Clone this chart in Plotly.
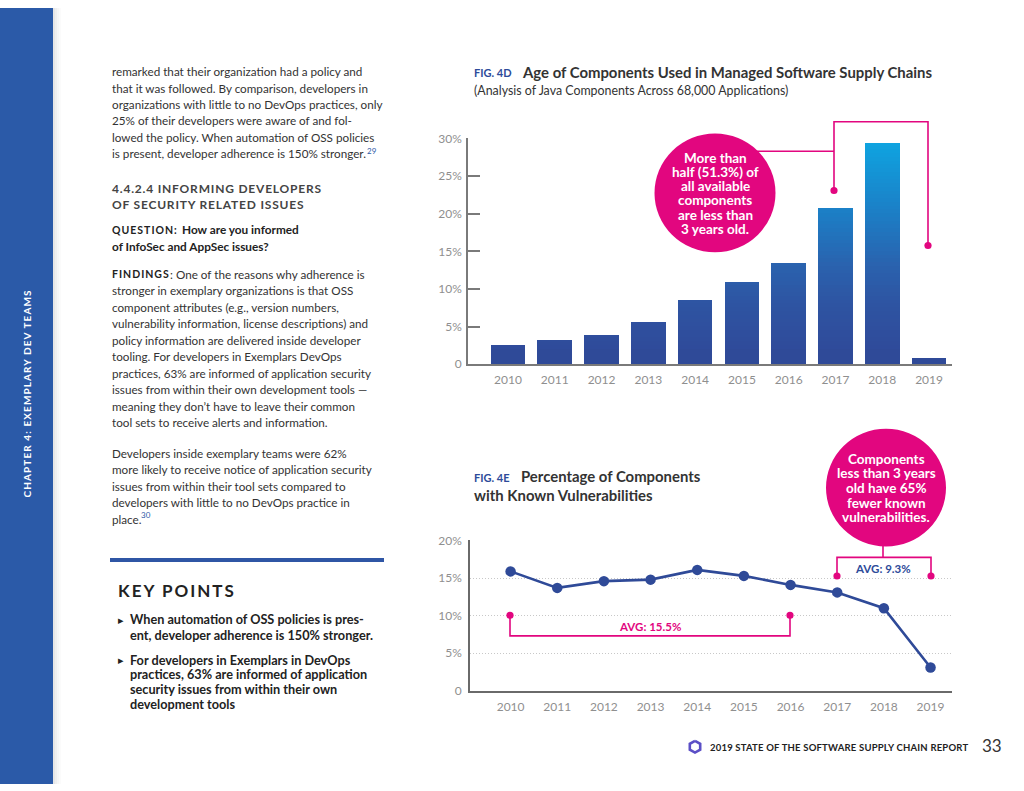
import plotly.graph_objects as go

# ---------------- data ----------------
years = ["2010", "2011", "2012", "2013", "2014", "2015", "2016", "2017", "2018", "2019"]
age_pct = [2.5, 3.1, 3.8, 5.5, 8.4, 10.9, 13.4, 20.6, 29.3, 0.7]          # Fig 4D
vuln_pct = [15.9, 13.7, 14.6, 14.8, 16.1, 15.3, 14.1, 13.1, 11.0, 3.1]    # Fig 4E
age_ticks = [0, 5, 10, 15, 20, 25, 30]
age_ticktext = ["0", "5%", "10%", "15%", "20%", "25%", "30%"]
vuln_ticks = [0, 5, 10, 15, 20]
vuln_ticktext = ["0", "5%", "10%", "15%", "20%"]
avg_old_label = "AVG: 15.5%"
avg_new_label = "AVG: 9.3%"
callout_4d = ["More than", "half (51.3%) of", "all available", "components", "are less than", "3 years old."]
callout_4e = ["Components", "less than 3 years", "old have 65%", "fewer known", "vulnerabilities."]

para1 = ["remarked that their organization had a policy and",
         "that it was followed. By comparison, developers in",
         "organizations with little to no DevOps practices, only",
         "25% of their developers were aware of and fol-",
         "lowed the policy. When automation of OSS policies",
         "is present, developer adherence is 150% stronger."]
footnote1 = "29"
heading = ["4.4.2.4 INFORMING DEVELOPERS", "OF SECURITY RELATED ISSUES"]
question_label = "QUESTION:"
question = ["How are you informed", "of InfoSec and AppSec issues?"]
findings_label = "FINDINGS"
findings = [": One of the reasons why adherence is",
            "stronger in exemplary organizations is that OSS",
            "component attributes (e.g., version numbers,",
            "vulnerability information, license descriptions) and",
            "policy information are delivered inside developer",
            "tooling. For developers in Exemplars DevOps",
            "practices, 63% are informed of application security",
            "issues from within their own development tools —",
            "meaning they don’t have to leave their common",
            "tool sets to receive alerts and information."]
para3 = ["Developers inside exemplary teams were 62%",
         "more likely to receive notice of application security",
         "issues from within their tool sets compared to",
         "developers with little to no DevOps practice in",
         "place."]
footnote2 = "30"
key_title = "KEY POINTS"
bullet1 = ["When automation of OSS policies is pres-", "ent, developer adherence is 150% stronger."]
bullet2 = ["For developers in Exemplars in DevOps", "practices, 63% are informed of application",
           "security issues from within their own", "development tools"]
sidebar_text = "CHAPTER 4: EXEMPLARY DEV TEAMS"
footer_text = "2019 STATE OF THE SOFTWARE SUPPLY CHAIN REPORT"
page_no = "33"

# ---------------- helpers ----------------
W, H = 1024, 791
FONT = "Lato"
PINK = "#e2067f"
NAVY = "#2f4a98"
TXT = "#333333"
LINK = "#2d5aa8"


def X(px):
    return px / W


def Y(py):
    return 1 - py / H


annotations = []
shapes = []


def spaced(s, ls):
    return f"<span style='letter-spacing:{ls}px'>{s}</span>"


def text(x, y, s, size=11.7, color=TXT, bold=False, anchor="left", family=FONT, angle=0):
    if bold:
        s = "<b>" + s + "</b>"
    annotations.append(dict(x=X(x), y=Y(y), xref="paper", yref="paper", text=s, showarrow=False,
                            xanchor=anchor, yanchor="middle", textangle=angle,
                            font=dict(family=family, size=size, color=color)))


def path(points, color=PINK, width=1.6):
    d = "M " + " L ".join(f"{X(px)},{Y(py)}" for px, py in points)
    shapes.append(dict(type="path", xref="paper", yref="paper", path=d,
                       line=dict(color=color, width=width)))


def circle(cx, cy, r, color=PINK):
    shapes.append(dict(type="circle", xref="paper", yref="paper", x0=X(cx - r), x1=X(cx + r),
                       y0=Y(cy + r), y1=Y(cy - r), fillcolor=color, line=dict(width=0)))


def lerp_color(v, stops):
    for (v0, c0), (v1, c1) in zip(stops[:-1], stops[1:]):
        if v <= v1:
            t = (v - v0) / (v1 - v0)
            c = [round(a + (b - a) * t) for a, b in zip(c0, c1)]
            return f"rgb({c[0]},{c[1]},{c[2]})"
    c = stops[-1][1]
    return f"rgb({c[0]},{c[1]},{c[2]})"


grad_stops = [(0, (48, 72, 152)), (8, (46, 84, 162)), (13, (42, 98, 174)),
              (20.5, (27, 128, 199)), (30, (14, 166, 226))]

fig = go.Figure()

# ---------------- Fig 4D bars ----------------
BW = 0.74
fig.add_trace(go.Bar(x=years, y=age_pct, width=BW, marker=dict(color=NAVY, line=dict(width=0)),
                     xaxis="x", yaxis="y", hoverinfo="x+y", showlegend=False))
step = 0.5
lvl = 2.0
while lvl < max(age_pct):
    hs = []
    for v in age_pct:
        h = min(v - lvl, step * 1.2)
        hs.append(h if h > 0 else None)
    fig.add_trace(go.Bar(x=years, y=hs, base=lvl, width=BW,
                         marker=dict(color=lerp_color(lvl + step / 2, grad_stops), line=dict(width=0)),
                         xaxis="x", yaxis="y", hoverinfo="skip", showlegend=False))
    lvl += step

# ---------------- Fig 4E line ----------------
fig.add_trace(go.Scatter(x=years, y=vuln_pct, mode="lines+markers",
                         line=dict(color=NAVY, width=2.6), marker=dict(color=NAVY, size=10.5),
                         xaxis="x2", yaxis="y2", showlegend=False))

axis_font = dict(family=FONT, size=12, color="#8f8f8f")

fig.update_layout(
    width=W, height=H, autosize=False,
    margin=dict(l=0, r=0, t=0, b=0),
    paper_bgcolor="white", plot_bgcolor="rgba(0,0,0,0)",
    barmode="overlay", bargap=0,
    xaxis=dict(domain=[X(468), X(952)], range=[-0.855, 9.49], type="category",
               showline=True, linecolor="#7a7a7a", linewidth=1.6, ticks="", showgrid=False,
               tickfont=axis_font, ticklabelstandoff=4, anchor="y", fixedrange=True),
    yaxis=dict(domain=[Y(363), Y(133)], range=[0, 30], tickvals=age_ticks, ticktext=age_ticktext,
               showline=True, linecolor="#7a7a7a", linewidth=1.6, ticks="inside", ticklen=12,
               tickcolor="#7a7a7a", tickwidth=1.6, showgrid=False, zeroline=False,
               tickfont=axis_font, ticklabelstandoff=2, anchor="x", fixedrange=True),
    xaxis2=dict(domain=[X(470), X(952)], range=[-0.87, 9.46], type="category",
                showline=True, linecolor="#6a6a6a", linewidth=1.6, ticks="", showgrid=False,
                tickfont=axis_font, ticklabelstandoff=4, anchor="y2", fixedrange=True),
    yaxis2=dict(domain=[Y(696), Y(542.5)], range=[0, 20.05], tickvals=vuln_ticks, ticktext=vuln_ticktext,
                showline=True, linecolor="#6a6a6a", linewidth=1.6, ticks="",
                showgrid=True, gridcolor="#c8c8c8", griddash="1px,2px", gridwidth=1, zeroline=False,
                tickfont=axis_font, ticklabelstandoff=4, anchor="x2", fixedrange=True),
)

# ---------------- page decorations ----------------
shapes.append(dict(type="rect", xref="paper", yref="paper", x0=0, x1=X(53), y0=0, y1=1,
                   fillcolor="#2b5aa8", line=dict(width=0), layer="below"))
for i, c in enumerate(["#e6e6e6", "#efefef", "#f6f6f6", "#fbfbfb"]):
    shapes.append(dict(type="rect", xref="paper", yref="paper", x0=X(53 + i * 2), x1=X(55 + i * 2),
                       y0=0, y1=1, fillcolor=c, line=dict(width=0), layer="below"))
text(27, 393, spaced(sidebar_text, 1.1), size=10, color="white", bold=True, anchor="center", angle=-90)

# left column text
for i, s in enumerate(para1):
    text(110, 64.3 + 16.75 * i, s)
text(365, 145.5, footnote1, size=8, color=LINK)
for i, s in enumerate(heading):
    text(110, 184.3 + 15.7 * i, spaced(s, 0.8), size=12, color="#444444", bold=True)
text(110, 226.2, spaced(question_label, 1.0), size=10.5, color="#222222", bold=True)
text(180, 225.7, question[0], size=11.8, color="#222222", bold=True)
text(110, 242.7, question[1], size=11.8, color="#222222", bold=True)
text(110, 271.5, spaced(findings_label, 1.0), size=10.5, color="#222222", bold=True)
for i, s in enumerate(findings):
    text(168 if i == 0 else 110, 271 + 16.8 * i, s)
for i, s in enumerate(para3):
    text(110, 453.3 + 16.8 * i, s)
text(138.5, 516.5, footnote2, size=8, color=LINK)

# key points box
shapes.append(dict(type="line", xref="paper", yref="paper", x0=X(110), x1=X(384), y0=Y(562.7), y1=Y(562.7),
                   line=dict(color="#2f56a5", width=4)))
text(116, 593.5, spaced(key_title, 2), size=17, color="#222222", bold=True)
for i, s in enumerate(bullet1):
    if i == 0:
        text(116, 623.3, "▸", size=11, color="#222222")
    text(128, 623.3 + 15.7 * i, s, size=12.7, color="#222222", bold=True)
for i, s in enumerate(bullet2):
    if i == 0:
        text(116, 664.3, "▸", size=11, color="#222222")
    text(128, 664.3 + 15 * i, s, size=12.7, color="#222222", bold=True)

# footer
hexpts = [(695 + 6 * dx, 753 + 6 * dy) for dx, dy in
          [(0, -1), (0.866, -0.5), (0.866, 0.5), (0, 1), (-0.866, 0.5), (-0.866, -0.5), (0, -1)]]
path(hexpts, color="#5b4fc6", width=2.6)
text(708, 754, spaced(footer_text, 0.2), size=9.5, color="#222222", bold=True)
text(980, 752, page_no, size=17, color="#333333")

# ---------------- chart titles ----------------
text(472, 65.7, "FIG. 4D", size=11, color="#2d4b9a", bold=True)
text(520, 65.5, "Age of Components Used in Managed Software Supply Chains", size=14.9, color="#333333", bold=True)
text(472, 84.3, "(Analysis of Java Components Across 68,000 Applications)", size=12.4, color="#333333")
text(472, 478.3, "FIG. 4E", size=11, color="#2d4b9a", bold=True)
text(519, 477.5, "Percentage of Components", size=14.9, color="#333333", bold=True)
text(472, 496.7, "with Known Vulnerabilities", size=14.9, color="#333333", bold=True)

# ---------------- Fig 4D callout ----------------
path([(730, 146), (834, 146)])
path([(834, 186), (834, 116), (928, 116), (928, 242)])
circle(834, 186, 3.6)
circle(928, 242, 3.6)
circle(715, 188.5, 60.5)
for i, s in enumerate(callout_4d):
    text(715, 153.3 + 14.3 * i, s, size=13.5, color="white", bold=True, anchor="center")

# ---------------- Fig 4E callouts ----------------
path([(510, 619), (510, 640), (790, 640), (790, 619)])
circle(510, 619, 3.6)
circle(790, 619, 3.6)
text(650, 630, avg_old_label, size=11.5, color=PINK, bold=True, anchor="center")
path([(837, 579), (837, 560), (931, 560), (931, 579)])
path([(883, 560), (883, 545)])
circle(837, 579, 3.6)
circle(931, 579, 3.6)
text(883, 571.5, avg_new_label, size=11.5, color="#2d4b9a", bold=True, anchor="center")
circle(886, 489, 60)
for i, s in enumerate(callout_4e):
    text(886, 459.3 + 15 * i, s, size=13.5, color="white", bold=True, anchor="center")

fig.update_layout(annotations=annotations, shapes=shapes)

fig.write_html("out.html", config={"displayModeBar": False},
               post_script="document.body.style.margin='0';document.body.style.overflow='hidden';")
